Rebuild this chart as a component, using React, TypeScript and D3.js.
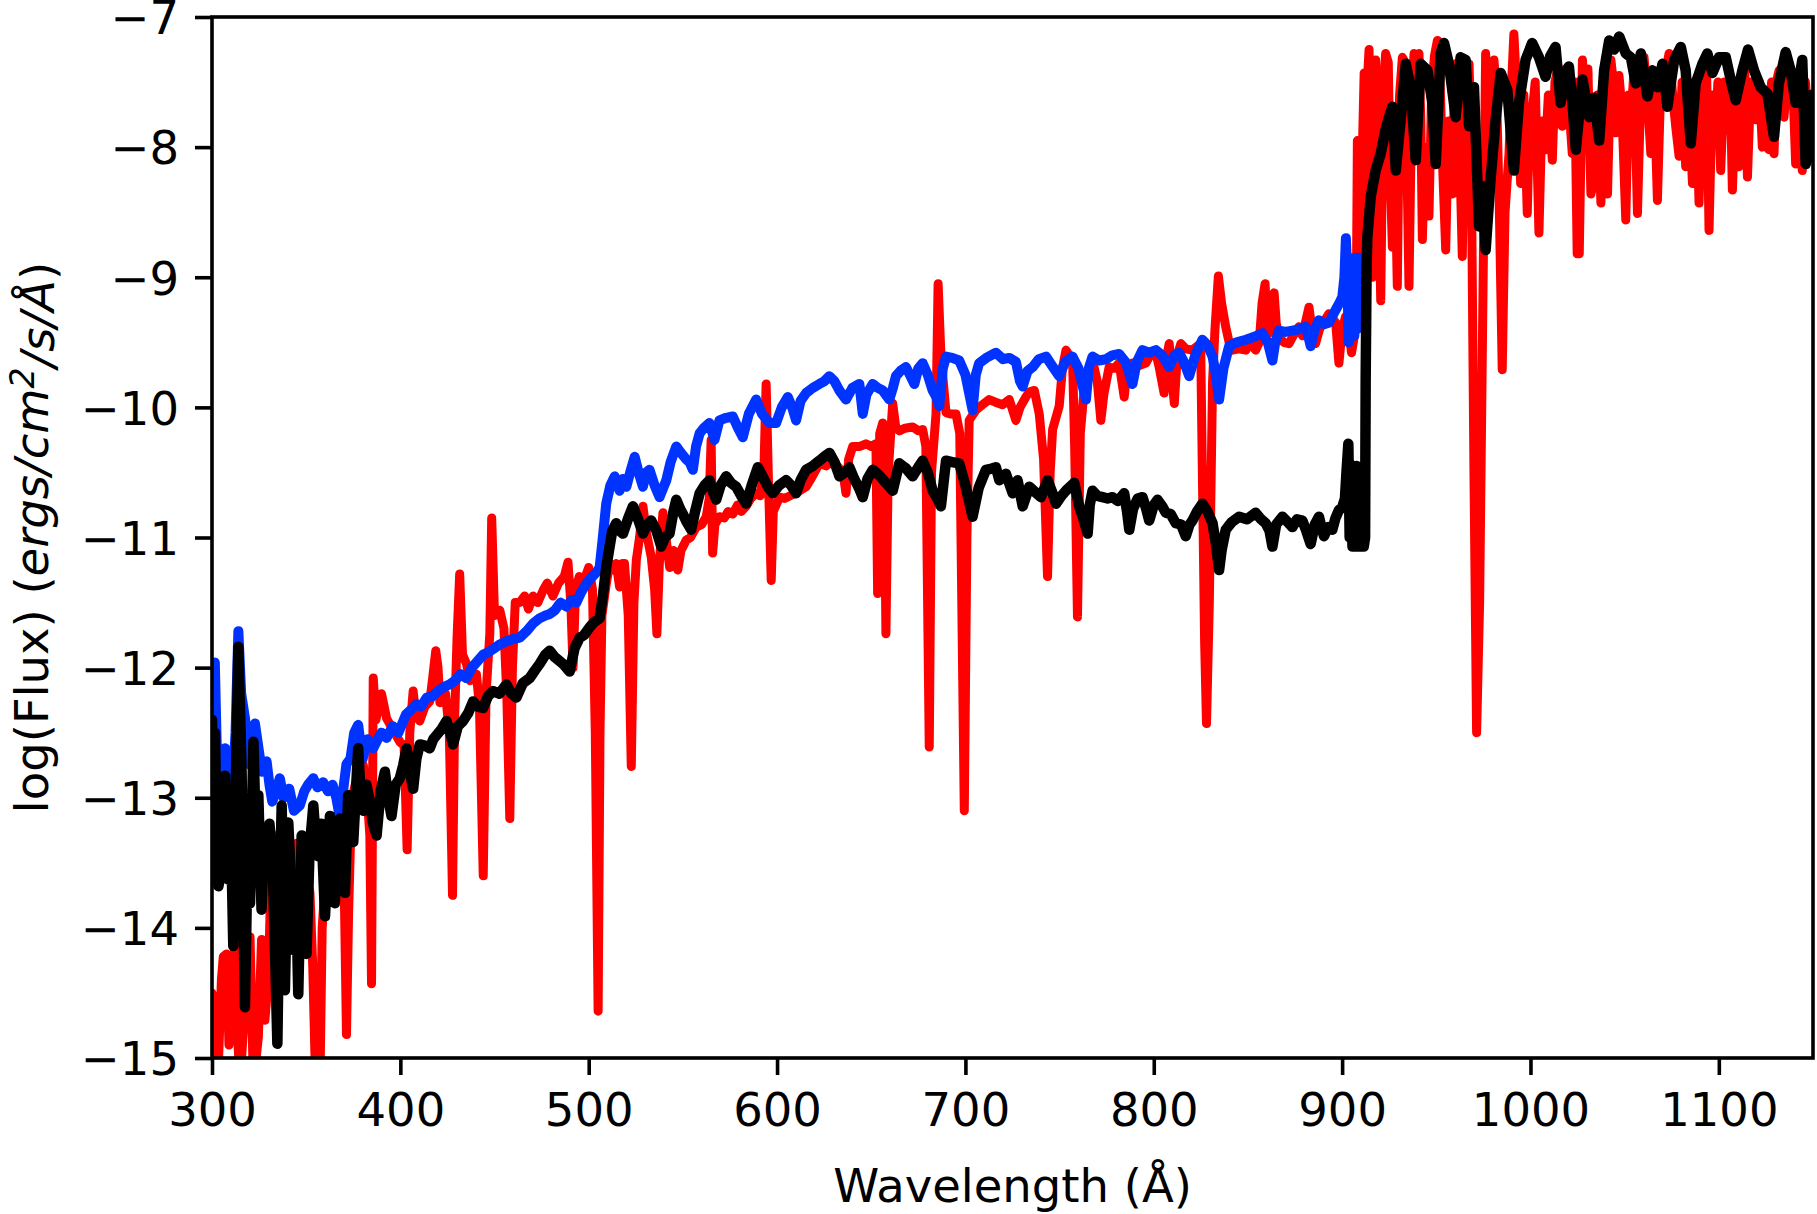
import React, { useEffect, useRef } from "react";
import * as d3 from "d3";

type Pt = [number, number];

// wavelength (Å), log flux
const RED_SPECTRUM: Pt[] = [
  [300, -14.5], [301, -15.0], [302, -14.6], [303, -15.2], [305, -14.4], [306, -14.22], [307.8, -14.2],
  [309, -14.9], [310.4, -14.58], [312.2, -14.14], [313.5, -14.8], [314.9, -15.2], [316.6, -14.79],
  [318, -14.3], [320.2, -14.07], [321, -14.6], [322, -15.2], [324.6, -14.84], [326.3, -14.09],
  [327, -14.5], [328.1, -14.71], [329.9, -14.38], [331.7, -13.42], [333, -13.6], [334.3, -13.29],
  [336, -13.5], [338, -13.35], [339.6, -13.55], [341, -13.3], [343, -13.5], [345, -13.35],
  [347, -13.6], [350.2, -13.6], [352, -13.73], [353.5, -14.3], [354.6, -14.95], [355.5, -15.3],
  [357.3, -15.2], [358.5, -14.0], [360.8, -13.5], [363, -13.3], [366.1, -13.34], [368, -13.2],
  [370, -13.5], [371.4, -14.82], [372.5, -13.9], [374.1, -13.03], [376, -12.9], [378, -12.8],
  [380.3, -12.75], [382, -12.9], [383.8, -13.29], [384.7, -14.43], [385.6, -12.08], [387, -12.4],
  [390, -12.2], [392.7, -12.39], [395, -12.45], [397, -12.5], [399.7, -12.57], [402, -12.6],
  [403.6, -13.4], [405, -12.5], [406.8, -12.18], [408, -12.35], [410.3, -12.41], [413, -12.3],
  [415.6, -12.26], [417, -12.1], [418.8, -11.87], [420, -12.0], [421, -12.27], [424, -12.2],
  [426, -12.5], [427.7, -13.75], [428.8, -12.4], [430.1, -11.77], [431.5, -11.28], [433, -11.9],
  [435.1, -11.97], [437, -12.1], [440.4, -12.05], [442, -12.3], [444, -13.6], [445.5, -12.2],
  [447.5, -11.74], [448.5, -10.85], [450, -11.6], [452.8, -11.56], [455, -11.7], [456.5, -12.2],
  [458.1, -13.16], [459.5, -12.0], [461, -11.5], [463.4, -11.5], [466, -11.45], [468, -11.55],
  [470.5, -11.45], [473, -11.5], [476, -11.4], [478, -11.35], [481, -11.45], [484, -11.35],
  [487, -11.3], [489, -11.19], [490.5, -11.5], [491.7, -12.0], [493, -11.4], [495, -11.3],
  [497, -11.35], [500, -11.23], [502, -11.4], [503.5, -12.5], [505, -14.64], [506, -12.5],
  [507, -11.6], [509.4, -11.35], [511.1, -11.2], [513, -11.25], [514.6, -11.2], [516.4, -11.38],
  [518, -11.2], [519, -11.2], [521, -11.6], [522.6, -12.76], [524, -11.5], [525.3, -11.17],
  [527, -11.0], [528.8, -10.76], [530.5, -10.95], [533.2, -11.15], [535, -11.4], [536.2, -11.74],
  [537.5, -11.2], [539.4, -10.81], [541, -11.0], [543, -11.23], [545, -11.1], [547.3, -11.25],
  [549, -11.1], [551.8, -11.02], [554, -11.0], [557.1, -10.92], [560, -10.9], [562.4, -10.84],
  [564, -10.7], [565, -10.25], [565.8, -11.12], [567, -10.9], [569.4, -10.84], [572, -10.85],
  [574, -10.8], [576.5, -10.82], [579, -10.75], [581, -10.8], [583.6, -10.76], [586, -10.7],
  [588.9, -10.66], [591, -10.68], [593, -10.5], [594.2, -9.82], [595.5, -10.6], [596.9, -11.33],
  [598, -10.8], [601.3, -10.69], [604, -10.7], [608.3, -10.67], [611, -10.65], [615.4, -10.61],
  [618, -10.55], [622.5, -10.43], [626, -10.45], [629.6, -10.41], [632, -10.45], [635, -10.5],
  [636.6, -10.66], [638, -10.4], [640.2, -10.3], [644, -10.3], [647.2, -10.28], [650, -10.3],
  [652.5, -10.28], [653.4, -11.43], [654.5, -10.2], [656.1, -10.12], [657, -10.6], [657.8, -11.74],
  [659, -10.5], [661.4, -9.97], [663, -10.15], [664.9, -10.18], [668, -10.16], [672, -10.15],
  [675, -10.18], [677.3, -10.17], [679, -10.3], [680.8, -12.61], [682, -10.5], [684.4, -10.05],
  [685.5, -9.05], [687, -9.6], [689.7, -10.04], [692, -10.05], [695, -10.05], [697, -10.2],
  [699.4, -13.1], [700.8, -11.0], [702, -10.1], [705.6, -10.02], [709, -9.98], [712.6, -9.94],
  [716, -9.96], [719.7, -9.98], [723.3, -9.94], [726.8, -10.1], [729, -10.0], [732.1, -9.92],
  [734, -9.88], [736.6, -9.87], [739.2, -10.05], [741.5, -10.4], [743.6, -11.3], [745, -10.5],
  [746.3, -10.17], [749.8, -9.99], [751.5, -9.7], [753.4, -9.56], [756.9, -9.64], [758, -10.3],
  [759.5, -11.61], [761, -10.2], [763, -9.87], [765, -9.8], [767.5, -9.64], [770, -9.8],
  [771.9, -10.1], [773.5, -9.9], [776.3, -9.69], [779, -9.7], [781.6, -9.66], [784.3, -9.92],
  [786, -9.7], [788.7, -9.66], [792, -9.68], [795.8, -9.66], [798, -9.6], [801.1, -9.58],
  [803, -9.7], [805.5, -9.89], [807, -9.6], [808.2, -9.51], [810.9, -9.97], [812.5, -9.6],
  [814.4, -9.51], [817, -9.55], [820.5, -9.56], [824.9, -9.51], [825.8, -10.5], [827, -11.8],
  [828, -12.43], [829.5, -11.5], [831.2, -9.81], [832.5, -9.4], [834.3, -8.99], [836, -9.2],
  [838.2, -9.38], [840, -9.5], [841.8, -9.56], [845, -9.55], [848.9, -9.56], [851, -9.5],
  [854.1, -9.56], [856, -9.5], [857.5, -9.2], [859.1, -9.05], [860.2, -9.4], [861.2, -9.43],
  [862.5, -9.3], [863.9, -9.12], [865, -9.35], [866.5, -9.46], [869, -9.5], [871.8, -9.51],
  [874, -9.45], [877.1, -9.38], [879, -9.45], [880.5, -9.35], [882.4, -9.23], [884, -9.4],
  [885.9, -9.51], [888, -9.4], [890, -9.35], [893, -9.28], [896.6, -9.35], [898.3, -9.66],
  [900, -9.4], [901.9, -9.3], [903.5, -9.4], [905, -9.58], [906.5, -9.45], [907.5, -9.3],
  [908.1, -7.95], [909, -8.3], [909.9, -9.3], [910.8, -8.0], [911.7, -7.43], [913, -7.6],
  [914.3, -7.25], [915.2, -8.2], [916.1, -9.0], [917, -7.8], [917.8, -7.33], [919, -8.0],
  [920.5, -9.18], [921.8, -7.6], [923.1, -7.28], [924.5, -7.35], [925.5, -8.2], [926.7, -8.77],
  [928, -8.1], [929.3, -9.07], [930.5, -7.6], [932, -7.31], [933.5, -7.35], [934.5, -8.2],
  [935.5, -9.07], [937, -7.6], [938.2, -7.28], [939.5, -7.3], [940.8, -7.28], [941.8, -7.8],
  [942.6, -8.71], [944, -8.0], [946.1, -8.53], [947.5, -7.6], [949, -7.3], [950.6, -7.18],
  [952, -7.5], [953.5, -8.2], [955, -8.79], [956.5, -7.8], [958.5, -8.36], [959.5, -7.6],
  [960.3, -7.36], [962, -7.8], [963.8, -8.84], [965, -7.8], [966.2, -7.4], [967.4, -7.36],
  [968.5, -8.0], [970, -10.5], [971.4, -12.5], [973, -11.5], [974.5, -9.5], [976.2, -7.28],
  [977.5, -7.6], [979, -8.2], [980.6, -7.33], [982, -7.6], [983.5, -8.5], [985, -9.71],
  [986.5, -8.5], [988.6, -8.05], [990, -7.5], [991.2, -7.13], [992.5, -7.5], [994.8, -8.28],
  [996.5, -7.6], [998.3, -8.51], [999.5, -7.8], [1000.9, -7.74], [1002.5, -7.5], [1004.5, -8.66],
  [1006, -7.8], [1008, -8.02], [1009.5, -7.6], [1011.6, -8.1], [1013, -7.5], [1014.5, -7.4],
  [1016.9, -7.84], [1018.5, -7.4], [1020, -7.6], [1022.2, -8.05], [1023.5, -7.5], [1024.8, -8.82],
  [1025.9, -8.82], [1027.6, -7.33], [1029, -7.8], [1030.5, -7.4], [1032.1, -8.36], [1033.8, -8.25],
  [1035.5, -7.6], [1037.4, -8.43], [1039, -7.5], [1040.9, -8.36], [1042.7, -7.33], [1044, -7.5],
  [1045.3, -7.89], [1047, -7.45], [1048.5, -7.7], [1050.6, -8.56], [1052, -7.6], [1053.3, -7.79],
  [1055, -7.4], [1056.8, -8.51], [1058.5, -7.6], [1060.3, -7.31], [1062, -7.6], [1063.9, -8.05],
  [1065.5, -7.5], [1067.4, -8.41], [1069, -7.6], [1070.9, -7.66], [1072, -7.4], [1073.6, -7.28],
  [1075.5, -7.6], [1077.1, -7.84], [1078.9, -8.07], [1080.5, -7.5], [1082.4, -8.15], [1084, -7.6],
  [1086, -8.28], [1087.7, -7.5], [1089.5, -8.43], [1091, -7.5], [1092.2, -7.92], [1093.5, -7.4],
  [1094.8, -8.64], [1096.5, -7.6], [1098.4, -7.87], [1099.5, -7.5], [1101, -8.18], [1102.8, -7.5],
  [1104.5, -7.87], [1106, -7.5], [1107.2, -8.33], [1109, -7.6], [1110.7, -8.15], [1112.5, -7.6],
  [1113.8, -7.4], [1115.2, -8.23], [1117, -7.5], [1119.6, -7.79], [1121.5, -7.5], [1123.1, -8.0],
  [1125, -7.6], [1126.6, -8.02], [1128, -7.5], [1129.3, -8.05], [1130.5, -7.5], [1132, -7.41],
  [1133.5, -7.5], [1134.6, -7.77], [1136.5, -7.4], [1138.1, -7.41], [1139.5, -7.6], [1140.8, -8.13],
  [1142.5, -7.6], [1144.3, -8.18], [1146, -7.5], [1147.9, -7.87], [1150, -7.6],
];

const BLUE_SPECTRUM: Pt[] = [
  [300, -12.0], [301.5, -11.96], [302.5, -12.6], [303.4, -12.95], [305, -12.7], [306.9, -12.62],
  [308, -12.83], [309.5, -12.7], [311, -12.9], [312.5, -12.5], [314, -11.72], [315.5, -12.2],
  [317.5, -12.39], [319, -12.6], [320.5, -12.75], [322.8, -12.43], [324.5, -12.6], [326.5, -12.8],
  [329, -12.72], [330.5, -12.9], [332, -13.03], [334, -12.95], [336, -12.85], [338, -13.0],
  [341, -12.93], [343.5, -13.1], [346.6, -13.06], [349, -12.95], [351, -12.9], [353.8, -12.85],
  [356, -12.92], [359, -12.88], [361.5, -12.95], [364, -12.9], [366, -13.0], [368, -13.16],
  [370, -12.9], [371.4, -12.74], [373.5, -12.7], [375.5, -12.5], [377.6, -12.44], [379, -12.6],
  [380, -12.7], [382.5, -12.55], [385.6, -12.62], [388, -12.55], [390, -12.5], [392.7, -12.54],
  [396, -12.45], [399, -12.5], [403, -12.36], [406, -12.32], [408.5, -12.28], [411, -12.3],
  [414, -12.23], [417, -12.22], [420, -12.18], [423, -12.15], [426, -12.13], [429, -12.1],
  [432, -12.05], [435, -12.08], [438, -12.0], [441, -11.95], [444, -11.9], [447, -11.88],
  [450, -11.85], [453, -11.82], [456, -11.8], [460, -11.78], [463.4, -11.77], [467, -11.72],
  [470.5, -11.66], [474, -11.62], [477, -11.6], [479, -11.59], [482, -11.56], [485, -11.5],
  [488, -11.53], [491, -11.48], [493.5, -11.5], [496, -11.42], [499, -11.35], [502, -11.3],
  [504, -11.27], [505.8, -11.23], [507.5, -11.0], [509.3, -10.74], [511.5, -10.6], [513.8, -10.53],
  [516.4, -10.64], [518, -10.55], [520, -10.61], [522, -10.5], [524.4, -10.38], [526.5, -10.5],
  [528.8, -10.61], [530.5, -10.5], [532.3, -10.48], [535, -10.6], [537.6, -10.69], [539.5, -10.62],
  [541.2, -10.56], [543.5, -10.42], [546.5, -10.3], [549, -10.35], [551.8, -10.4], [553.5, -10.42],
  [555.3, -10.48], [557, -10.3], [558.9, -10.2], [561, -10.16], [564.1, -10.12], [566.8, -10.25],
  [569.4, -10.1], [573, -10.08], [576.5, -10.07], [579, -10.15], [581.8, -10.23], [585, -10.05],
  [588.9, -9.94], [592, -10.05], [596, -10.12], [599.5, -10.12], [602.5, -10.0], [605.7, -9.92],
  [608, -10.0], [610.1, -10.1], [612.5, -9.95], [615.4, -9.89], [619, -9.85], [622.5, -9.82],
  [625, -9.8], [627.8, -9.76], [630.5, -9.8], [633.1, -9.87], [636.6, -9.94], [640, -9.85],
  [643.7, -9.82], [645.5, -10.05], [647.5, -9.9], [650.8, -9.82], [653.5, -9.85], [656.1, -9.87],
  [659.6, -9.94], [661.5, -9.85], [663.1, -9.76], [665.5, -9.72], [668.4, -9.69], [670.5, -9.75],
  [672.9, -9.82], [675, -9.7], [677.3, -9.66], [680, -9.75], [682.6, -9.87], [684.5, -9.92],
  [686.1, -9.99], [688, -9.7], [689.7, -9.61], [693, -9.62], [696.7, -9.64], [700, -9.75],
  [703.8, -10.02], [705.5, -9.75], [707.3, -9.66], [711, -9.62], [716.2, -9.58], [720, -9.63],
  [723.3, -9.62], [726.8, -9.65], [729, -9.8], [730.4, -9.84], [733, -9.72], [735.7, -9.69],
  [739, -9.63], [742.8, -9.61], [746, -9.68], [749.8, -9.76], [753, -9.65], [756.9, -9.61],
  [760, -9.7], [762.5, -9.85], [764, -9.94], [765.5, -9.7], [767.5, -9.61], [771, -9.64],
  [774.6, -9.63], [778, -9.6], [781.6, -9.59], [785, -9.65], [788.7, -9.82], [791, -9.65],
  [794, -9.56], [797.5, -9.58], [801.1, -9.56], [804.5, -9.6], [808.2, -9.69], [811, -9.6],
  [813.5, -9.58], [816, -9.65], [818.8, -9.76], [822, -9.6], [825.8, -9.48], [828.5, -9.52],
  [831.2, -9.61], [833, -9.75], [834.7, -9.94], [837, -9.7], [840, -9.53], [844, -9.5],
  [848.9, -9.48], [853, -9.46], [857.7, -9.43], [860.5, -9.5], [863, -9.64], [864.5, -9.5],
  [866.5, -9.41], [870, -9.42], [873.6, -9.41], [877, -9.4], [880.7, -9.38], [882, -9.45],
  [883.3, -9.53], [885.5, -9.4], [887.7, -9.33], [890.5, -9.36], [893, -9.35], [896.6, -9.25],
  [898.5, -9.2], [900.1, -9.15], [901.2, -9.0], [902, -8.7], [902.8, -9.0], [903.5, -9.5],
  [904.3, -8.85], [905, -9.45], [905.8, -8.9], [906.5, -9.45], [907.3, -8.85], [908, -9.4],
  [908.8, -8.85], [909.5, -9.35], [910, -9.3],
];

const BLACK_SPECTRUM: Pt[] = [
  [300, -12.4], [300.7, -13.6], [301.6, -12.5], [302.5, -13.4], [303.4, -13.68], [305.1, -13.55],
  [306.9, -12.83], [308.7, -13.63], [310, -13.2], [311.3, -14.14], [312.5, -13.0], [314, -11.84],
  [315.7, -12.78], [316.6, -13.8], [317.5, -14.61], [318.8, -13.5], [320.2, -13.81], [322, -12.57],
  [323.3, -13.3], [324.6, -12.98], [326.3, -13.86], [327.7, -13.3], [329, -13.42], [330.5, -13.2],
  [332.2, -13.5], [333.5, -14.2], [334.7, -14.89], [335.8, -13.8], [337, -13.06], [338.7, -14.48],
  [340.5, -13.19], [341.8, -13.6], [343.1, -14.17], [344.5, -13.6], [345.8, -14.51], [347.6, -13.29],
  [349, -13.6], [350.2, -14.2], [351.8, -13.4], [353.8, -13.06], [355, -13.3], [356.4, -13.45],
  [358, -13.2], [360, -13.91], [362.6, -13.14], [364, -13.5], [365.2, -13.81], [367.9, -13.16],
  [369, -13.3], [370.6, -13.73], [372.3, -12.98], [373.5, -13.2], [375, -13.34], [377.6, -12.62],
  [379, -13.0], [380.3, -13.1], [382, -12.9], [383.8, -13.03], [385.5, -13.2], [387.4, -13.29],
  [389.5, -12.95], [391.8, -12.8], [393.5, -13.0], [395.3, -13.14], [397.5, -12.9], [399.7, -12.85],
  [401.5, -12.75], [403.3, -12.62], [405, -12.8], [406.8, -12.93], [408.5, -12.7], [410.3, -12.59],
  [413, -12.6], [415.6, -12.62], [417.5, -12.55], [419.2, -12.52], [422, -12.47], [424.5, -12.41],
  [426.5, -12.5], [428, -12.59], [430.5, -12.45], [433.3, -12.41], [436, -12.35], [438.6, -12.26],
  [441, -12.3], [443.9, -12.31], [446.5, -12.22], [449.2, -12.18], [452.5, -12.2], [456.3, -12.13],
  [459, -12.2], [461.6, -12.23], [465, -12.12], [468.7, -12.08], [471.5, -12.02], [474, -11.97],
  [477, -11.9], [479.3, -11.87], [482, -11.92], [484.6, -11.95], [487, -11.98], [489.9, -12.03],
  [492.5, -11.85], [495.2, -11.77], [497.5, -11.75], [500.5, -11.69], [503, -11.65], [505.8, -11.62],
  [507.5, -11.45], [509.3, -11.23], [511.1, -11.07], [512.5, -10.95], [514.6, -10.89], [516.5, -10.95],
  [518.2, -10.97], [521, -10.85], [523.5, -10.76], [526, -10.85], [528.8, -10.97], [531, -10.9],
  [533.2, -10.87], [536, -10.95], [538.5, -11.07], [540.5, -11.0], [542.9, -10.97], [545, -10.8],
  [546.5, -10.71], [548.5, -10.78], [550, -10.82], [552, -10.88], [554.4, -10.94], [556.5, -10.8],
  [558.9, -10.66], [561.5, -10.6], [564.1, -10.56], [566, -10.65], [567.7, -10.71], [570, -10.6],
  [573, -10.53], [575.5, -10.58], [578.3, -10.61], [581, -10.68], [583.6, -10.74], [586.5, -10.6],
  [589.8, -10.46], [593, -10.55], [595.5, -10.62], [597.7, -10.66], [601, -10.6], [604.8, -10.56],
  [607.5, -10.6], [610.1, -10.66], [612.5, -10.56], [615.4, -10.48], [619, -10.45], [622.5, -10.41],
  [625, -10.38], [627.8, -10.35], [630.5, -10.42], [633.1, -10.53], [636, -10.5], [638.4, -10.46],
  [641, -10.55], [643.5, -10.62], [645.5, -10.69], [648, -10.55], [650.8, -10.48], [654, -10.52],
  [657.8, -10.58], [661.4, -10.64], [664.9, -10.43], [668.5, -10.47], [672, -10.53], [675, -10.46],
  [677.3, -10.41], [680, -10.5], [682.6, -10.64], [685, -10.7], [687, -10.76], [689.7, -10.41],
  [693, -10.42], [696.7, -10.43], [700, -10.6], [703.8, -10.84], [707, -10.62], [710.9, -10.48],
  [714, -10.47], [716.2, -10.46], [718, -10.56], [721.5, -10.51], [725.1, -10.66], [727.7, -10.56],
  [730.4, -10.76], [733.9, -10.61], [737, -10.65], [740.1, -10.69], [743.6, -10.56], [746, -10.65],
  [748.1, -10.74], [751, -10.68], [753.4, -10.64], [757.8, -10.58], [760.4, -10.76], [762.5, -10.85],
  [764.9, -10.97], [766, -10.75], [767.5, -10.64], [770, -10.68], [772.8, -10.69], [775.5, -10.7],
  [778.1, -10.69], [781, -10.72], [784.3, -10.66], [785.8, -10.8], [787, -10.94], [789, -10.78],
  [791.5, -10.7], [794, -10.69], [796, -10.78], [797.6, -10.87], [800, -10.75], [802, -10.71],
  [804.5, -10.76], [806.4, -10.81], [809, -10.82], [811.7, -10.89], [814.5, -10.9], [817, -10.99],
  [819, -10.9], [820.5, -10.87], [823, -10.8], [825.8, -10.74], [828.5, -10.8], [831.2, -10.89],
  [833, -11.05], [834.7, -11.25], [836, -11.1], [838.2, -10.94], [841.5, -10.88], [845.3, -10.84],
  [849.5, -10.86], [854.1, -10.81], [857, -10.86], [859.4, -10.89], [861.5, -10.95], [863, -11.07],
  [865, -10.9], [868.3, -10.84], [871, -10.88], [873.6, -10.92], [876, -10.86], [878.9, -10.87],
  [881, -10.95], [883.3, -11.05], [885.5, -10.9], [887.7, -10.84], [889, -10.92], [890.4, -10.99],
  [892.5, -10.92], [894.8, -10.94], [896.5, -10.85], [898.3, -10.79], [900, -10.77], [901.5, -10.7],
  [902.3, -10.5], [903.3, -10.28], [904, -11.0], [904.8, -10.5], [905.5, -11.07], [906.3, -10.45],
  [907, -11.07], [907.8, -10.45], [908.5, -11.07], [909.3, -10.5], [910, -11.07], [910.8, -10.55],
  [911.5, -11.07], [912.2, -11.0], [912.5, -9.8], [913, -8.92], [913.4, -8.69], [915.2, -8.38],
  [917.8, -8.18], [920.5, -8.05], [923, -7.87], [924.9, -7.77], [926.7, -7.69], [928.5, -8.18],
  [931.1, -7.79], [933.8, -7.36], [936.4, -7.54], [939.1, -8.1], [941.7, -7.36], [945.3, -7.41],
  [947.9, -7.66], [949.7, -8.13], [952.3, -7.28], [954.1, -7.2], [956.7, -7.36], [960.3, -7.77],
  [962.9, -7.31], [965.6, -7.33], [967.4, -7.84], [970, -7.54], [972.7, -8.61], [974.5, -8.3],
  [976.2, -8.79], [978.8, -8.25], [981.5, -7.79], [984.2, -7.43], [987.7, -7.56], [991.2, -8.18],
  [993.9, -7.66], [997.4, -7.33], [1000.9, -7.2], [1004.5, -7.31], [1008, -7.46], [1010.5, -7.3],
  [1013.3, -7.23], [1016, -7.66], [1018, -7.45], [1020.4, -7.38], [1022.5, -7.7], [1024.1, -8.02],
  [1027.6, -7.48], [1031.2, -7.77], [1033.8, -7.62], [1036.5, -7.95], [1039.1, -7.41], [1041.8, -7.18],
  [1044.4, -7.25], [1047.1, -7.15], [1050.6, -7.28], [1053.3, -7.31], [1055.9, -7.51], [1058.6, -7.28],
  [1062.1, -7.61], [1064.8, -7.41], [1067.4, -7.54], [1070.1, -7.36], [1072.7, -7.69], [1076.3, -7.33],
  [1079.8, -7.23], [1082.4, -7.41], [1085.1, -7.97], [1087.7, -7.51], [1091.3, -7.36], [1093.9, -7.28],
  [1096.6, -7.43], [1100.1, -7.31], [1103.7, -7.31], [1107.2, -7.54], [1109, -7.64], [1112.5, -7.41],
  [1115.5, -7.25], [1118.7, -7.41], [1122.2, -7.54], [1125.8, -7.59], [1129.3, -7.92], [1131.9, -7.51],
  [1135.5, -7.27], [1138.1, -7.41], [1140.8, -7.66], [1144.3, -7.33], [1146.1, -8.13], [1147.9, -8.05],
  [1149, -7.6],
];

const X_TICKS = [300, 400, 500, 600, 700, 800, 900, 1000, 1100];
const Y_TICKS = [-15, -14, -13, -12, -11, -10, -9, -8, -7];

const W = 1817;
const H = 1214;
const FONT = "'DejaVu Sans', sans-serif";

const SpectrumChart: React.FC = () => {
  const svgRef = useRef<SVGSVGElement | null>(null);

  useEffect(() => {
    if (!svgRef.current) return;
    const margin = { top: 17, right: 4, bottom: 156, left: 212 };
    const svg = d3.select(svgRef.current);
    svg.selectAll("*").remove();

    const x = d3.scaleLinear().domain([300, 1150]).range([margin.left, W - margin.right]);
    const y = d3.scaleLinear().domain([-15, -7]).range([H - margin.bottom, margin.top]);
    const [x0, x1] = x.range();
    const [y0, y1] = y.range();

    svg.append("rect").attr("width", W).attr("height", H).attr("fill", "#fff");

    svg.append("clipPath").attr("id", "plot-clip")
      .append("rect")
      .attr("x", x0).attr("y", y1)
      .attr("width", x1 - x0).attr("height", y0 - y1);

    const line = d3.line<Pt>()
      .x(d => x(d[0]))
      .y(d => y(d[1]));

    const series: { data: Pt[]; color: string; width: number }[] = [
      { data: RED_SPECTRUM, color: "#ff0000", width: 9 },
      { data: BLUE_SPECTRUM, color: "#0033ff", width: 10 },
      { data: BLACK_SPECTRUM, color: "#000000", width: 10.5 },
    ];

    const plot = svg.append("g").attr("clip-path", "url(#plot-clip)");
    series.forEach(s => {
      plot.append("path")
        .datum(s.data)
        .attr("d", line)
        .attr("fill", "none")
        .attr("stroke", s.color)
        .attr("stroke-width", s.width)
        .attr("stroke-linejoin", "round")
        .attr("stroke-linecap", "round");
    });

    // ticks
    const fmt = (d: number) => (d < 0 ? `\u2212${Math.abs(d)}` : `${d}`);

    const xAxis = svg.append("g")
      .attr("transform", `translate(0,${y0})`)
      .call(d3.axisBottom(x).tickValues(X_TICKS).tickSize(17).tickPadding(16).tickFormat(d => fmt(+d)));
    const yAxis = svg.append("g")
      .attr("transform", `translate(${x0},0)`)
      .call(d3.axisLeft(y).tickValues(Y_TICKS).tickSize(17).tickPadding(16).tickFormat(d => fmt(+d)));

    [xAxis, yAxis].forEach(a => {
      a.select(".domain").remove();
      a.selectAll(".tick line").attr("stroke", "#000").attr("stroke-width", 3.6);
      a.selectAll(".tick text")
        .attr("fill", "#000")
        .style("font-family", FONT)
        .style("font-size", "46.5px");
    });
    xAxis.selectAll(".tick text").attr("dy", "0.76em");
    yAxis.selectAll(".tick text").attr("dy", "0.36em");

    // spines
    svg.append("rect")
      .attr("x", x0).attr("y", y1)
      .attr("width", x1 - x0).attr("height", y0 - y1)
      .attr("fill", "none")
      .attr("stroke", "#000")
      .attr("stroke-width", 3.6);

    // axis labels
    svg.append("text")
      .attr("x", (x0 + x1) / 2)
      .attr("y", 1202)
      .attr("text-anchor", "middle")
      .style("font-family", FONT)
      .style("font-size", "46.5px")
      .text("Wavelength (\u00c5)");

    const yl = svg.append("text")
      .attr("transform", `translate(48,${(y0 + y1) / 2}) rotate(-90)`)
      .attr("text-anchor", "middle")
      .style("font-family", FONT)
      .style("font-size", "46.5px");
    yl.append("tspan").text("log(Flux) (");
    yl.append("tspan").style("font-style", "italic").text("ergs/cm");
    yl.append("tspan").attr("dy", "-0.42em").style("font-size", "33px").style("font-style", "italic").text("2");
    yl.append("tspan").attr("dy", "0.42em").style("font-style", "italic").text("/s/\u00c5");
    yl.append("tspan").text(")");
  }, []);

  return <svg ref={svgRef} width={W} height={H} style={{ display: "block" }} />;
};

export default function App() {
  return (
    <div style={{ position: "absolute", left: 0, top: 0, background: "#fff" }}>
      <SpectrumChart />
    </div>
  );
}
